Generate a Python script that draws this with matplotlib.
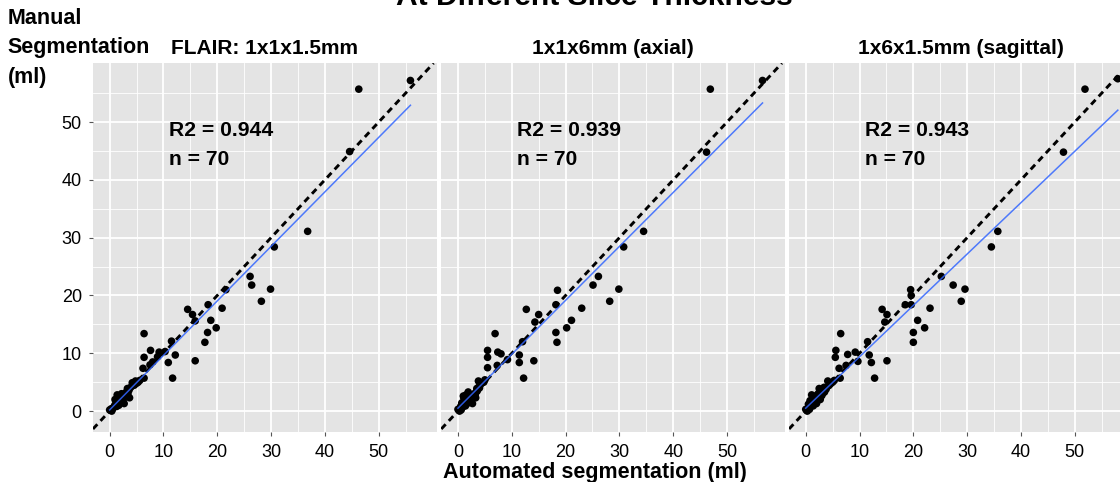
import matplotlib

matplotlib.use("Agg")
import matplotlib.pyplot as plt
import numpy as np

plt.rcParams['font.family'] = ['Liberation Sans', 'DejaVu Sans']

# panel titles and stats
panels = ["FLAIR: 1x1x1.5mm", "1x1x6mm (axial)", "1x6x1.5mm (sagittal)"]
r2_labels = ["R2 = 0.944", "R2 = 0.939", "R2 = 0.943"]
n_label = "n = 70"

# FLAIR 1x1x1.5mm
auto_1 = [46.3, 55.9, 44.6, 36.8, 30.6, 26.1, 26.4, 29.9, 28.2, 21.6, 20.9, 18.3, 14.5, 15.4, 15.9,
          18.8, 19.8, 18.2, 17.7, 15.9, 11.7, 11.5, 12.2, 10.9, 10.3, 9.2, 8.9, 6.4, 7.6, 6.4,
          8.0, 7.5, 6.2, 6.4, 4.8, 4.2, 3.3, 3.7, 2.4, 1.4, 2.7, 1.7, 0.8, 0.0, 0.5,
          0.2, 0.3, 0.6, 0.9, 1.1, 1.3, 1.5, 1.8, 2.0, 2.2, 2.5, 2.9, 3.0, 3.4, 3.6,
          3.9, 4.3, 4.6, 5.0, 5.3, 5.6, 1.0, 1.6, 2.2, 0.4]
manual_1 = [55.7, 57.2, 44.9, 31.1, 28.4, 23.3, 21.8, 21.1, 19.0, 21.0, 17.8, 18.4, 17.6, 16.7, 15.6,
            15.7, 14.4, 13.6, 11.9, 8.7, 5.7, 12.1, 9.7, 8.4, 10.3, 10.2, 9.4, 13.4, 10.5, 9.3,
            8.5, 8.0, 7.4, 5.7, 5.2, 4.9, 3.9, 2.3, 2.5, 2.8, 1.3, 1.0, 0.7, 0.2, 0.3,
            0.1, 0.4, 0.5, 0.9, 1.2, 0.8, 1.5, 1.9, 1.6, 2.1, 1.9, 2.6, 3.2, 3.0, 3.6,
            4.1, 4.4, 4.5, 4.8, 5.0, 5.3, 2.0, 2.3, 3.0, 0.0]

# 1x1x6mm axial
auto_2 = [46.9, 56.6, 46.2, 34.5, 30.8, 26.1, 25.1, 29.9, 28.2, 18.5, 23.0, 18.2, 12.7, 15.0, 14.3,
          21.1, 20.2, 18.2, 18.4, 14.1, 12.2, 12.0, 11.4, 11.4, 9.2, 8.0, 7.4, 6.9, 5.5, 5.5,
          7.3, 5.5, 3.8, 3.5, 3.3, 1.9, 1.0, 2.7, 0.8, 0.0,
          0.2, 0.4, 0.6, 0.9, 1.2, 1.4, 1.6, 1.8, 2.1, 2.3, 2.5, 2.8, 3.0, 3.2, 3.6,
          3.9, 4.2, 4.5, 4.8, 5.0, 1.1, 1.5, 2.0, 0.5, 0.3, 1.7, 2.6, 3.4, 4.0, 0.7]
manual_2 = [55.7, 57.2, 44.8, 31.1, 28.4, 23.3, 21.8, 21.1, 19.0, 20.9, 17.8, 18.4, 17.6, 16.7, 15.4,
            15.7, 14.4, 13.6, 11.9, 8.7, 5.7, 12.0, 9.7, 8.4, 8.9, 9.9, 10.2, 13.4, 10.5, 9.3,
            7.9, 7.5, 5.2, 3.9, 2.3, 3.3, 2.6, 1.3, 1.0, 0.3,
            0.1, 0.5, 0.2, 0.7, 1.1, 0.9, 1.6, 2.0, 1.7, 2.2, 1.8, 2.6, 3.0, 2.8, 3.5,
            4.2, 4.6, 4.9, 5.0, 5.4, 2.2, 2.8, 2.6, 0.8, 0.0, 1.3, 2.4, 3.3, 4.0, 1.4]

# 1x6x1.5mm sagittal
auto_3 = [51.9, 58.0, 47.9, 35.7, 34.5, 25.2, 27.4, 29.6, 28.9, 19.5, 19.6, 23.1, 19.6, 18.5, 14.2,
          15.1, 14.7, 20.8, 22.1, 20.0, 20.0, 15.1, 12.8, 11.5, 11.8, 12.2, 9.7, 9.2, 7.8, 6.5,
          5.6, 5.5, 7.5, 6.2, 6.4, 4.1, 2.5, 2.8, 1.1, 2.0, 0.6, 0.0,
          0.2, 0.4, 0.7, 0.9, 1.2, 1.4, 1.6, 1.9, 2.2, 2.4, 2.7, 3.0, 3.2, 3.5, 3.8,
          4.3, 4.6, 5.0, 5.3, 0.8, 1.3, 1.8, 0.3, 1.0, 2.9, 3.4, 0.5, 2.3]
manual_3 = [55.7, 57.5, 44.8, 31.1, 28.4, 23.3, 21.8, 21.1, 19.0, 21.0, 20.0, 17.8, 18.4, 18.4, 17.6,
            16.7, 15.4, 15.7, 14.4, 13.6, 11.9, 8.7, 5.7, 12.0, 9.7, 8.4, 8.6, 10.2, 9.8, 13.4,
            10.5, 9.3, 7.9, 7.4, 5.7, 5.2, 3.9, 2.5, 2.8, 1.3, 1.0, 0.3,
            0.1, 0.5, 0.3, 0.8, 1.2, 0.9, 1.7, 2.0, 1.8, 2.3, 2.0, 2.7, 3.1, 3.3, 3.8,
            4.4, 4.7, 5.0, 5.3, 1.8, 2.3, 2.6, 0.0, 1.4, 3.5, 4.1, 1.2, 3.0]

autos = [auto_1, auto_2, auto_3]
manuals = [manual_1, manual_2, manual_3]

# linear fit
fit_intercept = [0.2, 0.5, 0.5]
fit_slope = [0.943, 0.933, 0.889]

bg = "#E4E4E4"
fig = plt.figure(figsize=(11.2, 4.82), dpi=100)

lefts = [0.083, 0.394, 0.7045]
for i in range(3):
    ax = fig.add_axes([lefts[i], 0.104, 0.307, 0.765])
    ax.set_facecolor(bg)
    ax.set_xlim(-3.1, 60.8)
    ax.set_ylim(-3.6, 60.2)
    ax.set_xticks([0, 10, 20, 30, 40, 50])
    ax.set_xticks([5, 15, 25, 35, 45, 55], minor=True)
    ax.set_yticks([0, 10, 20, 30, 40, 50])
    ax.set_yticks([5, 15, 25, 35, 45, 55], minor=True)
    ax.grid(which="major", color="white", lw=1.3)
    ax.grid(which="minor", color="white", lw=0.6)
    ax.set_axisbelow(True)
    for s in ax.spines.values():
        s.set_visible(False)
    ax.tick_params(which="minor", length=0)
    ax.tick_params(which="major", length=3, color="#555555", labelsize=13)
    ax.tick_params(axis="x", pad=5.5)
    ax.tick_params(axis="y", pad=5)
    if i > 0:
        ax.tick_params(axis="y", labelleft=False, length=0)

    # identity line
    ax.axline((0, 0), slope=1, color="black", lw=2.1, ls=(0, (2.2, 1.6)), zorder=3)
    x = np.array(autos[i])
    y = np.array(manuals[i])
    ax.scatter(x, y, s=30, color="black", zorder=4, edgecolors="none")
    xs = np.array([x.min(), x.max()])
    ax.plot(xs, fit_intercept[i] + fit_slope[i] * xs, color="#3366FF", lw=1.1, alpha=0.85, zorder=5)

    ax.text(11, 48.5, r2_labels[i], fontsize=15.2, fontweight="bold", va="center")
    ax.text(11, 43.6, n_label, fontsize=15.2, fontweight="bold", va="center")
    ax.text(0.5, 1.041, panels[i], transform=ax.transAxes, fontsize=15, fontweight="bold",
            ha="center", va="center")

fig.text(0.531, 0.99, "At Different Slice Thickness", fontsize=21.6, fontweight="bold",
         ha="center", va="baseline")
for line, ypx in zip(["Manual", "Segmentation", "(ml)"], [18, 48, 78]):
    fig.text(0.007, 1 - ypx / 482, line, fontsize=15.5, fontweight="bold", ha="left", va="center")
fig.text(0.531, 0.02, "Automated segmentation (ml)", fontsize=15.5, fontweight="bold",
         ha="center", va="center")

fig.savefig("out.png", dpi=100)
